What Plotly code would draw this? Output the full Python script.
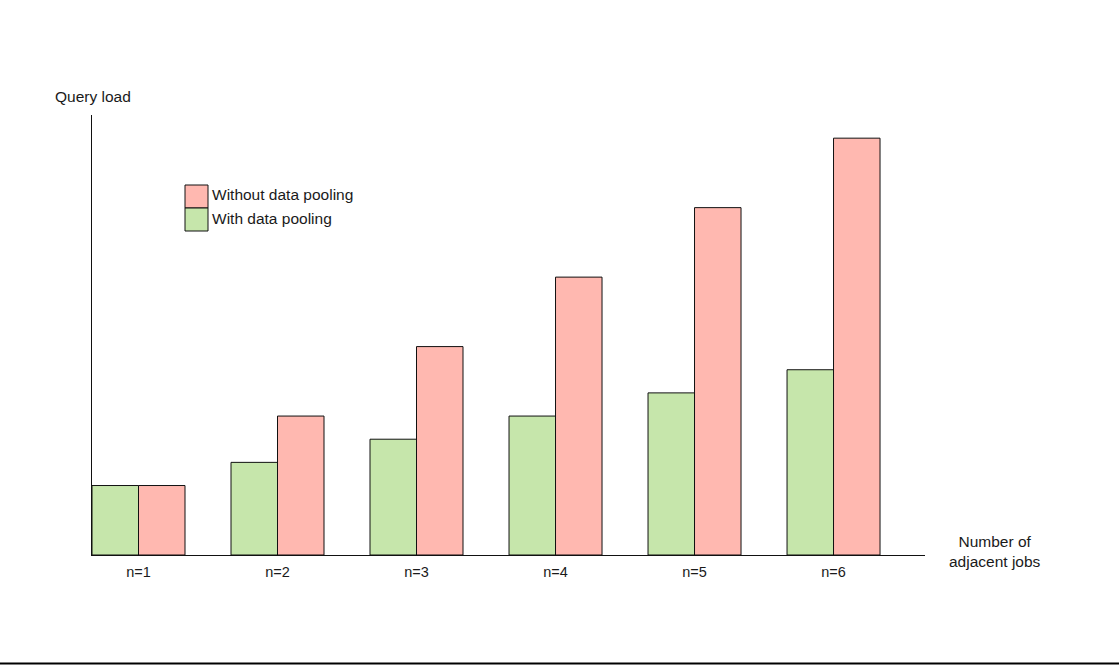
import plotly.graph_objects as go

categories = ["n=1", "n=2", "n=3", "n=4", "n=5", "n=6"]
with_pooling = [3, 4, 5, 6, 7, 8]
without_pooling = [3, 6, 9, 12, 15, 18]

GREEN = "#c6e6ab"
PINK = "#ffb8b0"
FONT = "Liberation Sans, Arial, sans-serif"
TXT = "#1a1a1a"

fig = go.Figure()
fig.add_trace(go.Bar(x=categories, y=with_pooling, name="With data pooling",
                     marker=dict(color=GREEN, line=dict(color="#111111", width=1))))
fig.add_trace(go.Bar(x=categories, y=without_pooling, name="Without data pooling",
                     marker=dict(color=PINK, line=dict(color="#111111", width=1))))

W, H = 1119, 665
L, R, T, B = 92, 194, 115, 110
pw, ph = W - L - R, H - T - B

def px(x):
    return (x - L) / pw

def py(y):
    return (H - B - y) / ph

shapes = [
    dict(type="rect", xref="paper", yref="paper", x0=px(185), x1=px(208), y0=py(208), y1=py(185),
         fillcolor=PINK, line=dict(color="#111111", width=1)),
    dict(type="rect", xref="paper", yref="paper", x0=px(185), x1=px(208), y0=py(231), y1=py(208),
         fillcolor=GREEN, line=dict(color="#111111", width=1)),
    dict(type="line", xref="paper", yref="paper", x0=px(0), x1=px(W), y0=py(663.5), y1=py(663.5),
         line=dict(color="#000000", width=2)),
]

AF = dict(size=15.5, color=TXT, family=FONT)
annotations = [
    dict(text="Without data pooling", xref="paper", yref="paper", x=px(210), y=py(195),
         xanchor="left", yanchor="middle", showarrow=False, font=AF),
    dict(text="With data pooling", xref="paper", yref="paper", x=px(210), y=py(218),
         xanchor="left", yanchor="middle", showarrow=False, font=AF),
    dict(text="Query load", xref="paper", yref="paper", x=px(92.5), y=py(97),
         xanchor="center", yanchor="middle", showarrow=False, font=AF),
    dict(text="Number of<br>adjacent jobs", xref="paper", yref="paper", x=px(995), y=py(551),
         xanchor="center", yanchor="middle", showarrow=False, align="center", font=AF),
]

fig.update_layout(
    width=W, height=H,
    margin=dict(l=L, r=R, t=T, b=B, pad=0),
    paper_bgcolor="white", plot_bgcolor="white",
    barmode="group", bargap=0.331, bargroupgap=0,
    showlegend=False,
    font=dict(family=FONT, size=14, color=TXT),
    shapes=shapes, annotations=annotations,
    xaxis=dict(type="category", range=[-0.3345, 5.658], showline=True, linecolor="#111111",
               linewidth=1, showgrid=False, zeroline=False, ticks="", ticklabelstandoff=4,
               tickfont=dict(size=14.5, color=TXT)),
    yaxis=dict(range=[0, 19], showline=True, linecolor="#111111", linewidth=1,
               showgrid=False, zeroline=False, showticklabels=False, ticks=""),
)

fig.write_html("out.html", config={"displayModeBar": False},
               post_script="document.body.style.margin='0px';document.body.style.overflow='hidden';")
